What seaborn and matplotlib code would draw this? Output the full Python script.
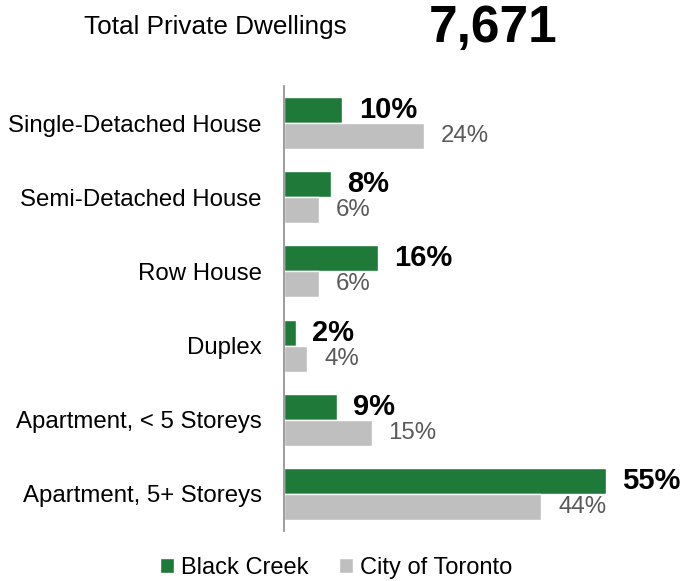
import matplotlib
matplotlib.use("Agg")
import matplotlib.pyplot as plt
import seaborn as sns
import pandas as pd
from matplotlib.patches import Patch

# ── Data ──────────────────────────────────────────────────────────────────────
categories = ["Single-Detached House", "Semi-Detached House", "Row House",
              "Duplex", "Apartment, < 5 Storeys", "Apartment, 5+ Storeys"]
black_creek = [10, 8, 16, 2, 9, 55]
toronto = [24, 6, 6, 4, 15, 44]
series = ["Black Creek", "City of Toronto"]
total_label = "Total Private Dwellings"
total_value = "7,671"

GREEN = "#1F7A3A"
GREY = "#BFBFBF"

df = pd.DataFrame({
    "category": categories * 2,
    "value": black_creek + toronto,
    "series": [series[0]] * len(categories) + [series[1]] * len(categories),
})

sns.set_theme(style="white")
plt.rcParams["font.family"] = ["Liberation Sans", "DejaVu Sans"]
plt.rcParams["text.color"] = "black"

fig = plt.figure(figsize=(6.81, 5.81), dpi=100)
ax = fig.add_axes([284 / 681, 50 / 581, 396 / 681, 445 / 581])

sns.barplot(data=df, y="category", x="value", hue="series", orient="h",
            palette=[GREEN, GREY], width=0.7, saturation=1, ax=ax, legend=False)

ax.set_xlim(0, 67.7)
ax.set_ylim(5.5, -0.5)
ax.set_xlabel("")
ax.set_ylabel("")
ax.set_xticks([])
ax.tick_params(axis="y", length=0, labelsize=17.3, pad=16, colors="black")
for s in ["top", "right", "bottom"]:
    ax.spines[s].set_visible(False)
ax.spines["left"].set_color("#8C8C8C")
ax.spines["left"].set_linewidth(1.2)

# value labels
ax.bar_label(ax.containers[0], labels=[f"{v}%" for v in black_creek],
             padding=12, fontsize=21, fontweight="bold", color="black")
ax.bar_label(ax.containers[1], labels=[f"{v}%" for v in toronto],
             padding=12, fontsize=17.3, color="#595959")

# header
fig.text(215 / 681, 1 - 27 / 581, total_label, fontsize=18.8, ha="center", va="center",
         color="black")
fig.text(493 / 681, 1 - 29 / 581, total_value, fontsize=37, fontweight="bold",
         ha="center", va="center", color="black")

# legend
handles = [Patch(facecolor=GREEN, label=series[0]), Patch(facecolor=GREY, label=series[1])]
leg = fig.legend(handles=handles, loc="center", bbox_to_anchor=(336 / 681, 1 - 568 / 581),
                 ncol=2, frameon=False, fontsize=17, handlelength=0.6, handleheight=0.6,
                 handletextpad=0.3, columnspacing=1.3, borderpad=0)
for t in leg.get_texts():
    t.set_color("black")

fig.savefig("out.png", dpi=100)
